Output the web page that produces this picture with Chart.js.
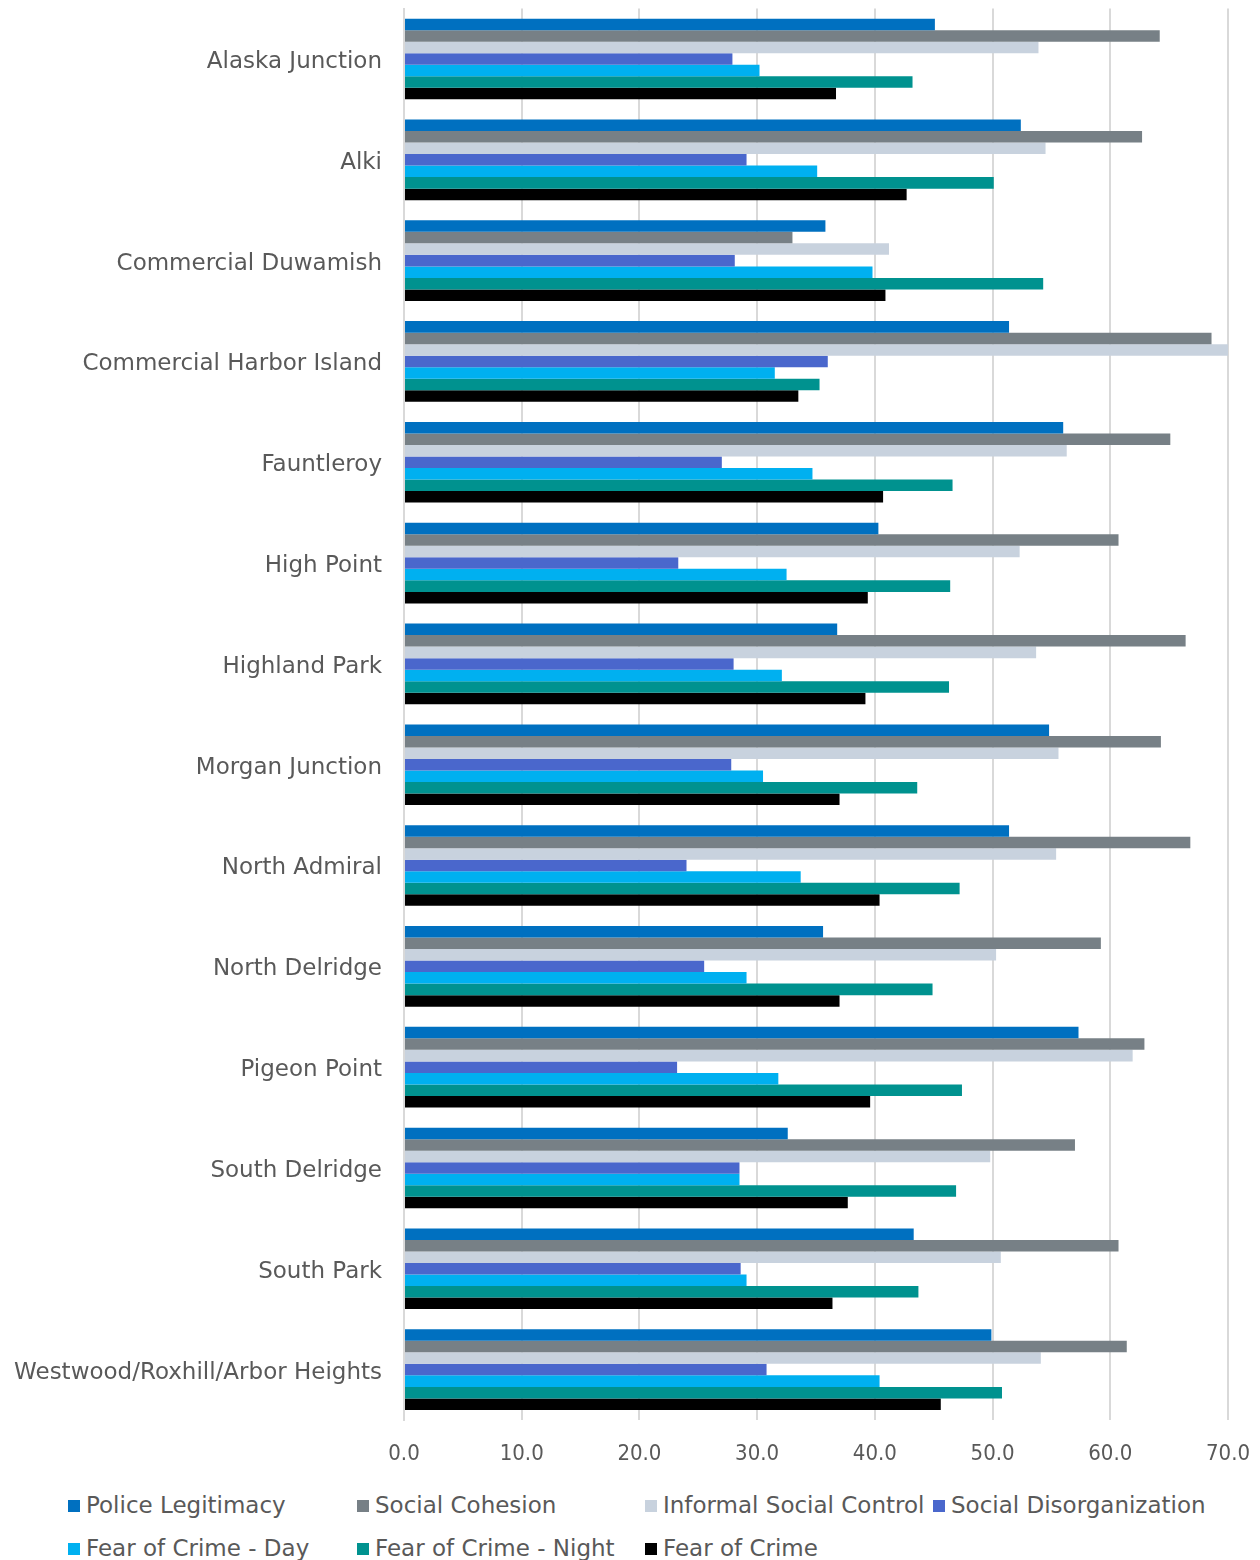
<!DOCTYPE html>
<html>
<head>
<meta charset="utf-8">
<script src="https://cdn.jsdelivr.net/npm/chart.js@4"></script>
<style>
  html, body { margin: 0; padding: 0; background: #fff; }
  #wrap { position: relative; width: 1260px; height: 1560px; }
  #c { position: absolute; left: 0; top: 0; }
  #legend { position: absolute; left: 0; top: 1484px; width: 1260px; height: 76px;
    font-family: "DejaVu Sans", sans-serif; font-size: 23px; color: #595959; }
  .item { position: absolute; white-space: nowrap; line-height: 26px; }
  .box { display: inline-block; width: 12px; height: 12px; margin-right: 6px; vertical-align: 1px; }
</style>
</head>
<body>
<div id="wrap">
  <canvas id="c" width="1260" height="1480"></canvas>
  <div id="legend"></div>
</div>
<script>
const categories = [
  "Alaska Junction", "Alki", "Commercial Duwamish", "Commercial Harbor Island",
  "Fauntleroy", "High Point", "Highland Park", "Morgan Junction", "North Admiral",
  "North Delridge", "Pigeon Point", "South Delridge", "South Park",
  "Westwood/Roxhill/Arbor Heights"
];
const seriesNames = [
  "Police Legitimacy", "Social Cohesion", "Informal Social Control",
  "Social Disorganization", "Fear of Crime - Day", "Fear of Crime - Night", "Fear of Crime"
];
const seriesColors = ["#0070C0", "#778086", "#C8D2DE", "#4A67CC", "#00B0F0", "#00928F", "#000000"];

const policeLegitimacy      = [45.1, 52.4, 35.8, 51.4, 56.0, 40.3, 36.8, 54.8, 51.4, 35.6, 57.3, 32.6, 43.3, 49.9];
const socialCohesion        = [64.2, 62.7, 33.0, 68.6, 65.1, 60.7, 66.4, 64.3, 66.8, 59.2, 62.9, 57.0, 60.7, 61.4];
const informalSocialControl = [53.9, 54.5, 41.2, 70.2, 56.3, 52.3, 53.7, 55.6, 55.4, 50.3, 61.9, 49.8, 50.7, 54.1];
const socialDisorganization = [27.9, 29.1, 28.1, 36.0, 27.0, 23.3, 28.0, 27.8, 24.0, 25.5, 23.2, 28.5, 28.6, 30.8];
const fearDay               = [30.2, 35.1, 39.8, 31.5, 34.7, 32.5, 32.1, 30.5, 33.7, 29.1, 31.8, 28.5, 29.1, 40.4];
const fearNight             = [43.2, 50.1, 54.3, 35.3, 46.6, 46.4, 46.3, 43.6, 47.2, 44.9, 47.4, 46.9, 43.7, 50.8];
const fearOfCrime           = [36.7, 42.7, 40.9, 33.5, 40.7, 39.4, 39.2, 37.0, 40.4, 37.0, 39.6, 37.7, 36.4, 45.6];

const seriesValues = [policeLegitimacy, socialCohesion, informalSocialControl, socialDisorganization, fearDay, fearNight, fearOfCrime];
const xTicks = [0, 10, 20, 30, 40, 50, 60, 70];

const datasets = seriesNames.map((name, i) => ({
  label: name,
  data: seriesValues[i],
  backgroundColor: seriesColors[i],
  borderWidth: 0,
  categoryPercentage: 0.8,
  barPercentage: 1.0
}));

new Chart(document.getElementById('c'), {
  type: 'bar',
  data: { labels: categories, datasets },
  options: {
    indexAxis: 'y',
    responsive: false,
    animation: false,
    layout: { padding: { top: 8.6, right: 32, left: 0, bottom: 0 } },
    plugins: { legend: { display: false }, tooltip: { enabled: false } },
    scales: {
      x: {
        min: 0, max: 70,
        afterBuildTicks: (s) => { s.ticks = xTicks.map(v => ({ value: v })); },
        afterFit: (s) => { s.height = 60; s.paddingLeft = 0; s.paddingRight = 0; },
        grid: { color: '#D9D9D9', lineWidth: 2, drawTicks: false },
        border: { display: false },
        ticks: {
          padding: 21,
          color: '#595959',
          font: { family: '"Liberation Sans Narrow", "DejaVu Sans Condensed", sans-serif', size: 22 },
          callback: (v) => Number(v).toFixed(1)
        }
      },
      y: {
        afterFit: (s) => { s.width = 404; s.paddingTop = 0; s.paddingBottom = 0; },
        grid: { display: false, drawTicks: false },
        border: { display: true, color: '#D9D9D9', width: 2 },
        ticks: {
          padding: 22,
          labelOffset: 3,
          color: '#595959',
          font: { family: '"DejaVu Sans", sans-serif', size: 23 }
        }
      }
    }
  }
});

const legend = document.getElementById('legend');
const cols = [68, 357, 645, 933];
seriesNames.forEach((name, i) => {
  const el = document.createElement('div');
  el.className = 'item';
  el.style.left = cols[i % 4] + 'px';
  el.style.top = (i < 4 ? 8 : 51) + 'px';
  el.innerHTML = '<span class="box" style="background:' + seriesColors[i] + '"></span>' + name;
  legend.appendChild(el);
});
</script>
</body>
</html>
